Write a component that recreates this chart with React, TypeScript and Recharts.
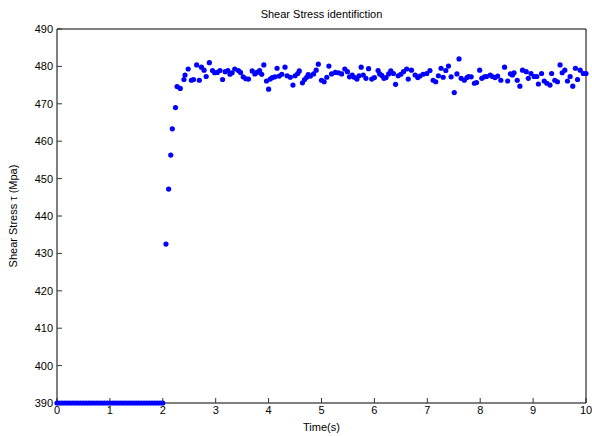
import { ScatterChart, Scatter, XAxis, YAxis } from "recharts";

// time samples (s) — flat start, then the jump just after t = 2 s
const flatTimes = [
  0, 0.05, 0.1, 0.15, 0.2, 0.25, 0.3, 0.35, 0.4, 0.45, 0.5, 0.55, 0.6, 0.65,
  0.7, 0.75, 0.8, 0.85, 0.9, 0.95, 1, 1.05, 1.1, 1.15, 1.2, 1.25, 1.3, 1.35,
  1.4, 1.45, 1.5, 1.55, 1.6, 1.65, 1.7, 1.75, 1.8, 1.85, 1.9, 1.95, 2,
];
const flatStress = [
  390, 390, 390, 390, 390, 390, 390, 390, 390, 390, 390, 390, 390, 390,
  390, 390, 390, 390, 390, 390, 390, 390, 390, 390, 390, 390, 390, 390,
  390, 390, 390, 390, 390, 390, 390, 390, 390, 390, 390, 390, 390,
];

const riseTimes = [2.06, 2.11, 2.15, 2.18, 2.24, 2.27, 2.33, 2.4, 2.42, 2.48];
const riseStress = [432.5, 447.2, 456.3, 463.3, 469, 474.6, 474.1, 476.5, 477.7, 479.3];

const steadyTimes = [
  2.54, 2.58, 2.64, 2.69, 2.73, 2.78, 2.82, 2.88, 2.94, 2.98, 3.03, 3.08, 3.13,
  3.18, 3.23, 3.27, 3.31, 3.36, 3.43, 3.47, 3.52, 3.57, 3.62, 3.69, 3.74, 3.78,
  3.83, 3.87, 3.91, 3.96, 4.0, 4.03, 4.07, 4.12, 4.16, 4.2, 4.25, 4.31, 4.35,
  4.41, 4.46, 4.5, 4.55, 4.58, 4.64, 4.68, 4.72, 4.75, 4.79, 4.85, 4.9, 4.94,
  5.0, 5.05, 5.1, 5.14, 5.19, 5.26, 5.32, 5.38, 5.44, 5.49, 5.53, 5.58, 5.62,
  5.67, 5.71, 5.75, 5.79, 5.84, 5.89, 5.95, 6.0, 6.07, 6.1, 6.14, 6.18, 6.22,
  6.27, 6.31, 6.36, 6.4, 6.45, 6.5, 6.55, 6.61, 6.64, 6.7, 6.77, 6.82, 6.86,
  6.92, 6.99, 7.05, 7.11, 7.16, 7.21, 7.26, 7.3, 7.35, 7.4, 7.45, 7.51, 7.56,
  7.6, 7.64, 7.7, 7.75, 7.78, 7.83, 7.89, 7.93, 7.99, 8.03, 8.08, 8.12, 8.19,
  8.23, 8.28, 8.33, 8.39, 8.46, 8.52, 8.57, 8.61, 8.64, 8.7, 8.75, 8.8, 8.87,
  8.91, 8.96, 9.02, 9.07, 9.1, 9.16, 9.21, 9.26, 9.32, 9.35, 9.41, 9.46, 9.51,
  9.55, 9.6, 9.65, 9.7, 9.75, 9.8, 9.84, 9.89, 9.95, 10,
];
const steadyStress = [
  476.3, 476.5, 480.4, 476.3, 479.8, 479, 477.3, 481, 478.9, 478.3, 478.4, 478.9, 476.5,
  478.6, 478.9, 477.9, 478.3, 479.3, 478.9, 478.4, 477.2, 476.7, 476.6, 478.8, 478, 478.4,
  478.9, 477.9, 480.4, 476.1, 473.9, 476.6, 477, 477.2, 479.5, 477.4, 477.9, 479.8, 477.5,
  477.1, 475, 477.5, 478.1, 478.8, 475.6, 476.5, 477.1, 477.8, 477.4, 478, 479, 480.6,
  476.3, 475.9, 477.1, 480.1, 478, 478.4, 478.3, 478, 479.3, 478.6, 477.2, 477.7, 477.1,
  476.6, 477.5, 479.8, 477.7, 476.8, 479.4, 476.6, 477, 478.9, 478, 477.6, 476.8, 477,
  478, 478.8, 478.1, 475.2, 477.5, 477.9, 478.6, 479.3, 476.6, 479, 477.7, 477, 477.4,
  477.9, 478.1, 478.9, 476.3, 475.9, 477.5, 479.5, 477.1, 478.9, 480.1, 477.2, 473, 478,
  482, 476.8, 476.3, 477, 477.3, 477.2, 475.5, 475.7, 479, 476.8, 477.2, 477.3, 477.7,
  477.3, 477, 477.4, 476.3, 479.8, 476.1, 478, 477.7, 478.3, 476.3, 474.7, 479, 478.6,
  476.8, 478.1, 477.3, 477.3, 475.3, 478.1, 476.1, 475.5, 475, 478.1, 476.3, 475.9, 480.4,
  478.3, 479, 476.1, 477.3, 474.7, 479.5, 476.5, 479, 478.1, 478.1,
];

const xTicks = [0, 1, 2, 3, 4, 5, 6, 7, 8, 9, 10];
const yTicks = [390, 400, 410, 420, 430, 440, 450, 460, 470, 480, 490];

const times = [...flatTimes, ...riseTimes, ...steadyTimes];
const stress = [...flatStress, ...riseStress, ...steadyStress];
const data = times.map((t, i) => ({ t, v: stress[i] }));

const FONT = "'Liberation Sans', Arial, Helvetica, sans-serif";

function Dot(props: { cx?: number; cy?: number }) {
  if (props.cx == null || props.cy == null) return null;
  return <circle cx={props.cx} cy={props.cy} r={2.6} fill="#0000ff" />;
}

export default function App() {
  return (
    <div
      style={{
        position: "absolute",
        left: 0,
        top: 0,
        width: 592,
        height: 436,
        background: "#fff",
        fontFamily: FONT,
      }}
    >
      <ScatterChart width={592} height={436} margin={{ top: 28, right: 5, bottom: 13, left: 10 }}>
        <XAxis
          dataKey="t"
          type="number"
          domain={[0, 10]}
          ticks={xTicks}
          height={20}
          tickSize={-5}
          tickMargin={8}
          axisLine={{ stroke: "#000" }}
          tickLine={{ stroke: "#333" }}
          tick={{ fill: "#000", fontSize: 11 }}
          label={{ value: "Time(s)", position: "bottom", offset: 0, fill: "#000", fontSize: 11 }}
        />
        <XAxis
          xAxisId="top"
          orientation="top"
          type="number"
          domain={[0, 10]}
          ticks={xTicks}
          height={1}
          tickSize={-5}
          tick={false}
          axisLine={{ stroke: "#000" }}
          tickLine={{ stroke: "#333" }}
          label={{
            value: "Shear Stress identifiction",
            position: "top",
            offset: 10,
            fill: "#000",
            fontSize: 11,
          }}
        />
        <YAxis
          dataKey="v"
          type="number"
          domain={[390, 490]}
          ticks={yTicks}
          width={47}
          tickSize={-5}
          tickMargin={9}
          axisLine={{ stroke: "#000" }}
          tickLine={{ stroke: "#333" }}
          tick={{ fill: "#000", fontSize: 11 }}
          label={{
            value: "Shear Stress \u03c4 (Mpa)",
            angle: -90,
            position: "insideLeft",
            offset: 3.5,
            fill: "#000",
            fontSize: 11,
            style: { textAnchor: "middle" },
          }}
        />
        <YAxis
          yAxisId="right"
          orientation="right"
          type="number"
          domain={[390, 490]}
          ticks={yTicks}
          width={1}
          tickSize={-5}
          tick={false}
          axisLine={{ stroke: "#000" }}
          tickLine={{ stroke: "#333" }}
        />
        <Scatter data={data} shape={<Dot />} isAnimationActive={false} />
      </ScatterChart>
    </div>
  );
}
